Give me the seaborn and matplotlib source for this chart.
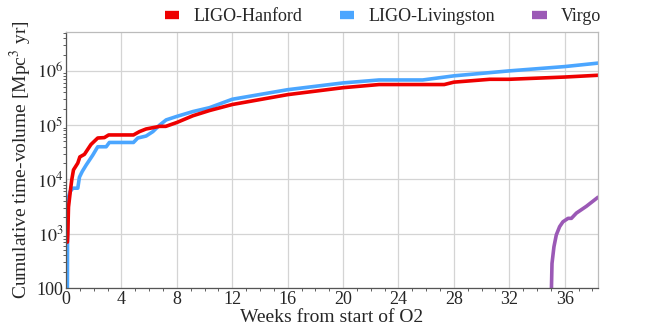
import numpy as np
import pandas as pd
import matplotlib
matplotlib.use("Agg")
import matplotlib.pyplot as plt
import matplotlib.ticker as mticker
import seaborn as sns

# ---- data (weeks from start of O2, cumulative VT in Mpc^3 yr) ----
hanford_weeks = [0.1, 0.13, 0.18, 0.32, 0.42, 0.54, 0.85, 1.0, 1.33, 1.8, 2.29, 2.77, 3.08,
                 4.87, 5.3, 5.78, 6.75, 7.2, 8.0, 9.16, 10.36, 12.0, 16.0, 20.0, 22.6,
                 24.1, 27.3, 28.0, 30.6, 32.0, 36.0, 38.4]
hanford_vt = [700, 1000, 3.1e3, 6.3e3, 1.0e4, 1.5e4, 2.0e4, 2.6e4, 2.9e4, 4.4e4, 5.8e4, 5.9e4, 6.6e4,
              6.6e4, 7.6e4, 8.5e4, 9.5e4, 9.5e4, 1.12e5, 1.49e5, 1.86e5, 2.4e5, 3.65e5, 4.9e5, 5.6e5,
              5.6e5, 5.6e5, 6.2e5, 7.0e5, 7.0e5, 7.7e5, 8.3e5]

livingston_weeks = [0.1, 0.12, 0.3, 0.5, 0.85, 0.97, 1.17, 1.46, 1.93, 2.29, 2.9, 3.13,
                    4.87, 5.18, 5.78, 6.27, 6.75, 7.23, 8.0, 9.16, 10.36, 12.0, 16.0, 20.0,
                    22.6, 25.75, 28.0, 32.0, 36.0, 38.4]
livingston_vt = [100, 4.2e3, 6.0e3, 6.9e3, 6.9e3, 1.1e4, 1.4e4, 1.85e4, 2.8e4, 4.0e4, 4.0e4, 4.8e4,
                 4.8e4, 5.8e4, 6.3e4, 7.6e4, 1.0e5, 1.25e5, 1.45e5, 1.78e5, 2.1e5, 3.0e5, 4.5e5, 6.0e5,
                 6.8e5, 6.8e5, 8.1e5, 1.0e6, 1.2e6, 1.39e6]

virgo_weeks = [35.04, 35.08, 35.22, 35.39, 35.63, 35.87, 36.24, 36.48, 36.84, 37.56, 38.4]
virgo_vt = [100, 284, 575, 950, 1350, 1660, 1920, 1920, 2400, 3200, 4700]

detectors = ["LIGO-Hanford", "LIGO-Livingston", "Virgo"]
colors = ["#ee0000", "#4ba6ff", "#9b59b6"]
x_ticks = [0, 4, 8, 12, 16, 20, 24, 28, 32, 36]
y_ticks = [1e2, 1e3, 1e4, 1e5, 1e6]
y_ticklabels = ["100", "$10^3$", "$10^4$", "$10^5$", "$10^6$"]

df = pd.concat([
    pd.DataFrame({"week": hanford_weeks, "vt": hanford_vt, "det": detectors[0]}),
    pd.DataFrame({"week": livingston_weeks, "vt": livingston_vt, "det": detectors[1]}),
    pd.DataFrame({"week": virgo_weeks, "vt": virgo_vt, "det": detectors[2]}),
], ignore_index=True)

sns.set_theme(style="whitegrid")
plt.rcParams["font.family"] = ["Liberation Serif", "DejaVu Serif"]
plt.rcParams["mathtext.fontset"] = "stix"

fig = plt.figure(figsize=(6.64, 3.32), dpi=100)
ax = fig.add_axes([0.0994, 0.1325, 0.8012, 0.7711])

sns.lineplot(data=df, x="week", y="vt", hue="det",
             hue_order=["LIGO-Livingston", "LIGO-Hanford", "Virgo"],
             palette=dict(zip(detectors, colors)),
             estimator=None, sort=False, linewidth=2.6, ax=ax, legend=False)

ax.set_yscale("log")
ax.set_xlim(0, 38.4)
ax.set_ylim(100, 5.2e6)
ax.set_xticks(x_ticks)
ax.set_xticklabels([str(t) for t in x_ticks])
ax.xaxis.set_minor_locator(mticker.MultipleLocator(1))
ax.yaxis.set_major_locator(mticker.FixedLocator(y_ticks))
ax.set_yticklabels(y_ticklabels)
ax.yaxis.set_minor_locator(mticker.LogLocator(base=10, subs=np.arange(2, 10)))
ax.yaxis.set_minor_formatter(mticker.NullFormatter())
ax.tick_params(axis="both", which="major", labelsize=13, length=0, pad=2)
ax.tick_params(axis="both", which="minor", length=2, width=0.6, color="#444444",
               left=True, bottom=True)
ax.grid(True, which="major", color="#d4d4d4", linewidth=0.9)
ax.grid(False, which="minor")
for s in ax.spines.values():
    s.set_color("#bbbbbb")
    s.set_linewidth(0.9)
ax.spines["left"].set_color("#555555")
ax.spines["bottom"].set_color("#555555")

ax.set_xlabel("Weeks from start of O2", fontsize=14, labelpad=1)
ax.set_ylabel("Cumulative time-volume [Mpc$^3$ yr]", fontsize=14, labelpad=2)

handles = [plt.Line2D([], [], color=c, linewidth=6, solid_capstyle="butt") for c in colors]
fig.legend(handles, detectors, loc="center", bbox_to_anchor=(0.577, 0.949), ncol=3,
           frameon=False, fontsize=13, handlelength=0.8, columnspacing=2.05, handletextpad=0.8)

fig.savefig("out.png", dpi=100)
